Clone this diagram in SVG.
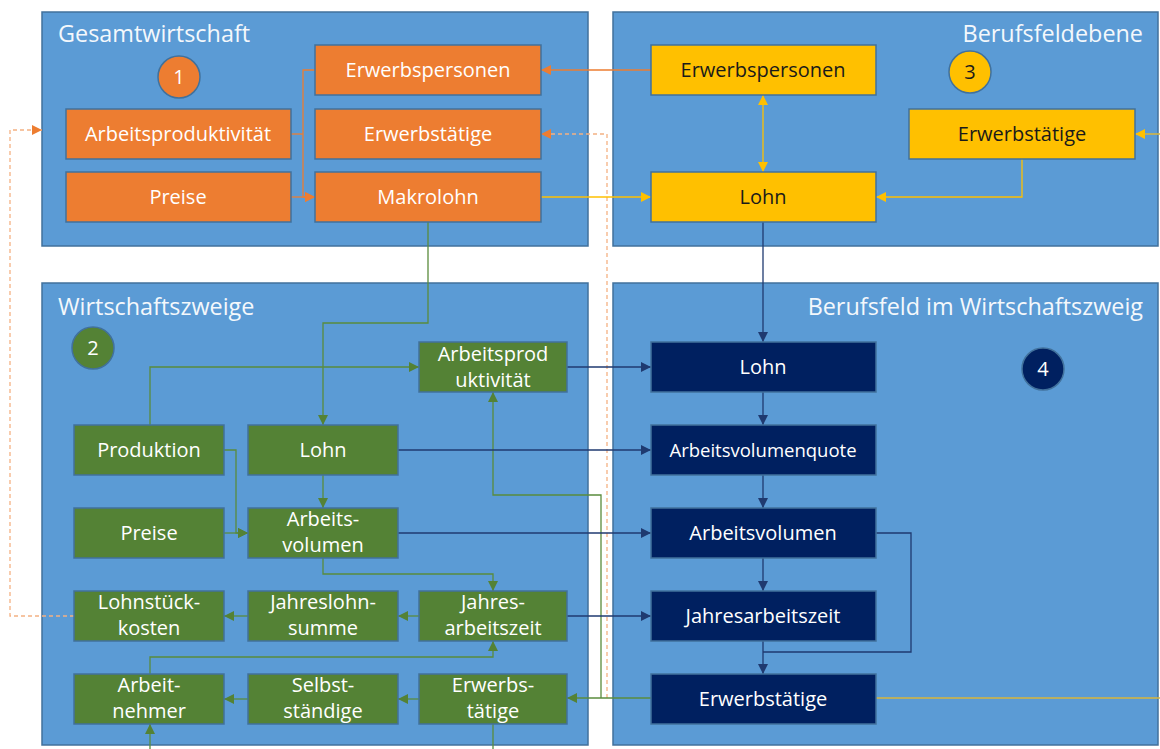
<svg xmlns="http://www.w3.org/2000/svg" width="1160" height="749" viewBox="0 0 1160 749">
<style>
.panel{fill:#5B9BD5;stroke:#41719C;stroke-width:1.5}
.title{font-family:"Open Sans","Liberation Sans",sans-serif;font-size:23.4px;fill:#F4F8FC}
.box{stroke:#41719C;stroke-width:1.5}
.or{fill:#ED7D31}.ye{fill:#FFC000}.gr{fill:#548235}.nv{fill:#002060}
.t{font-family:"Open Sans","Liberation Sans",sans-serif;font-size:20px;text-anchor:middle;fill:#FFFFFF}
.tk{fill:#1A1A1A}
.num{font-family:"Open Sans","Liberation Sans",sans-serif;font-size:20px;text-anchor:middle}
.c{fill:none;stroke-width:1.3}
.co{stroke:#ED7D31}.cy{stroke:#FFC000}.cg{stroke:#5A8C3C}.cn{stroke:#1F3A70}
.cd{stroke:#F4B183;stroke-dasharray:4 3}
</style>
<defs>
<marker id="ao" viewBox="0 0 10 10" refX="10" refY="5" markerWidth="10" markerHeight="10" markerUnits="userSpaceOnUse" orient="auto-start-reverse"><path d="M0,0L10,5L0,10z" fill="#ED7D31"/></marker>
<marker id="ay" viewBox="0 0 10 10" refX="10" refY="5" markerWidth="10" markerHeight="10" markerUnits="userSpaceOnUse" orient="auto-start-reverse"><path d="M0,0L10,5L0,10z" fill="#FFC000"/></marker>
<marker id="ag" viewBox="0 0 10 10" refX="10" refY="5" markerWidth="10" markerHeight="10" markerUnits="userSpaceOnUse" orient="auto-start-reverse"><path d="M0,0L10,5L0,10z" fill="#548235"/></marker>
<marker id="an" viewBox="0 0 10 10" refX="10" refY="5" markerWidth="10" markerHeight="10" markerUnits="userSpaceOnUse" orient="auto-start-reverse"><path d="M0,0L10,5L0,10z" fill="#1F3A70"/></marker>
</defs>
<rect width="1160" height="749" fill="#FFFFFF"/>

<g id="panel1">
<rect class="panel" x="42" y="12" width="546" height="234"/>
<text class="title" x="58" y="42">Gesamtwirtschaft</text>
</g>
<g id="panel3">
<rect class="panel" x="613" y="12" width="545" height="234"/>
<text class="title" x="1143" y="42" text-anchor="end">Berufsfeldebene</text>
</g>
<g id="panel2">
<rect class="panel" x="42" y="283" width="546" height="462"/>
<text class="title" x="58" y="315">Wirtschaftszweige</text>
</g>
<g id="panel4">
<rect class="panel" x="613" y="283" width="545" height="462"/>
<text class="title" x="1143" y="315" text-anchor="end">Berufsfeld im Wirtschaftszweig</text>
</g>

<g id="connectors">
<path class="c co" d="M315,70H303V197H315" marker-end="url(#ao)"/>
<path class="c co" d="M291,134H303"/>
<path class="c co" d="M291,197H315" marker-end="url(#ao)"/>
<path class="c co" d="M651,70H541" marker-end="url(#ao)"/>
<path class="c cd" d="M607,698V134H541" marker-end="url(#ao)"/>
<path class="c cd" d="M74,616H10V130H42" marker-end="url(#ao)"/>
<path class="c cy" d="M541,197H651" marker-end="url(#ay)"/>
<path class="c cy" d="M763,95V172" marker-start="url(#ay)" marker-end="url(#ay)"/>
<path class="c cy" d="M1022,159V197H876" marker-end="url(#ay)"/>
<path class="c" stroke="#D9B63C" d="M876,698H1163V134H1135" marker-end="url(#ay)"/>
<path class="c cg" d="M428,222V323H323V425" marker-end="url(#ag)"/>
<path class="c cg" d="M150,425V367H419" marker-end="url(#ag)"/>
<path class="c cg" d="M224,450H236V533H248" marker-end="url(#ag)"/>
<path class="c cg" d="M224,533H248" marker-end="url(#ag)"/>
<path class="c cg" d="M323,475V508" marker-end="url(#ag)"/>
<path class="c cg" d="M323,558V574H493V591" marker-end="url(#ag)"/>
<path class="c cg" d="M419,616H398" marker-end="url(#ag)"/>
<path class="c cg" d="M248,616H224" marker-end="url(#ag)"/>
<path class="c cg" d="M419,699H398" marker-end="url(#ag)"/>
<path class="c cg" d="M248,699H224" marker-end="url(#ag)"/>
<path class="c cg" d="M150,674V657H493V641" marker-end="url(#ag)"/>
<path class="c cg" d="M150,752V724" marker-end="url(#ag)"/>
<path class="c cg" d="M493,724V752"/>
<path class="c cg" d="M651,698H567" marker-end="url(#ag)"/>
<path class="c cg" d="M601,698V495H493V392" marker-end="url(#ag)"/>
<path class="c cn" d="M763,222V342" marker-end="url(#an)"/>
<path class="c cn" d="M567,367H651" marker-end="url(#an)"/>
<path class="c cn" d="M398,450H651" marker-end="url(#an)"/>
<path class="c cn" d="M398,533H651" marker-end="url(#an)"/>
<path class="c cn" d="M567,616H651" marker-end="url(#an)"/>
<path class="c cn" d="M763,392V425" marker-end="url(#an)"/>
<path class="c cn" d="M763,475V508" marker-end="url(#an)"/>
<path class="c cn" d="M763,558V591" marker-end="url(#an)"/>
<path class="c cn" d="M763,641V674" marker-end="url(#an)"/>
<path class="c cn" d="M876,533H911V652H763"/>
</g>

<g id="n1"><circle cx="179" cy="77" r="21" fill="#ED7D31" stroke="#41719C" stroke-width="1.5"/><text class="num" x="179" y="84" fill="#FFFFFF">1</text></g>
<g id="g-erwerbspersonen"><rect class="box or" x="315" y="45" width="226" height="50"/><text class="t" x="428" y="77">Erwerbspersonen</text></g>
<g id="g-arbeitsproduktivitaet"><rect class="box or" x="66" y="109" width="225" height="50"/><text class="t" x="178" y="141">Arbeitsproduktivität</text></g>
<g id="g-erwerbstaetige"><rect class="box or" x="315" y="109" width="226" height="50"/><text class="t" x="428" y="141">Erwerbstätige</text></g>
<g id="g-preise"><rect class="box or" x="66" y="172" width="225" height="50"/><text class="t" x="178" y="204">Preise</text></g>
<g id="g-makrolohn"><rect class="box or" x="315" y="172" width="226" height="50"/><text class="t" x="428" y="204">Makrolohn</text></g>

<g id="n3"><circle cx="970" cy="72" r="21" fill="#FFC000" stroke="#41719C" stroke-width="1.5"/><text class="num" x="970" y="79" fill="#1A1A1A">3</text></g>
<g id="b-erwerbspersonen"><rect class="box ye" x="651" y="45" width="225" height="50"/><text class="t tk" x="763" y="77">Erwerbspersonen</text></g>
<g id="b-erwerbstaetige"><rect class="box ye" x="909" y="109" width="226" height="50"/><text class="t tk" x="1022" y="141">Erwerbstätige</text></g>
<g id="b-lohn"><rect class="box ye" x="651" y="172" width="225" height="50"/><text class="t tk" x="763" y="204">Lohn</text></g>

<g id="n2"><circle cx="93" cy="348" r="21" fill="#548235" stroke="#41719C" stroke-width="1.5"/><text class="num" x="93" y="355" fill="#FFFFFF">2</text></g>
<g id="w-arbeitsprod"><rect class="box gr" x="419" y="342" width="148" height="50"/><text class="t" x="493" y="361">Arbeitsprod</text><text class="t" x="493" y="387">uktivität</text></g>
<g id="w-produktion"><rect class="box gr" x="74" y="425" width="150" height="50"/><text class="t" x="149" y="457">Produktion</text></g>
<g id="w-lohn"><rect class="box gr" x="248" y="425" width="150" height="50"/><text class="t" x="323" y="457">Lohn</text></g>
<g id="w-preise"><rect class="box gr" x="74" y="508" width="150" height="50"/><text class="t" x="149" y="540">Preise</text></g>
<g id="w-arbeitsvolumen"><rect class="box gr" x="248" y="508" width="150" height="50"/><text class="t" x="323" y="526">Arbeits-</text><text class="t" x="323" y="552">volumen</text></g>
<g id="w-lohnstueckkosten"><rect class="box gr" x="74" y="591" width="150" height="50"/><text class="t" x="149" y="609">Lohnstück-</text><text class="t" x="149" y="635">kosten</text></g>
<g id="w-jahreslohnsumme"><rect class="box gr" x="248" y="591" width="150" height="50"/><text class="t" x="323" y="609">Jahreslohn-</text><text class="t" x="323" y="635">summe</text></g>
<g id="w-jahresarbeitszeit"><rect class="box gr" x="419" y="591" width="148" height="50"/><text class="t" x="493" y="609">Jahres-</text><text class="t" x="493" y="635">arbeitszeit</text></g>
<g id="w-arbeitnehmer"><rect class="box gr" x="74" y="674" width="150" height="50"/><text class="t" x="149" y="692">Arbeit-</text><text class="t" x="149" y="718">nehmer</text></g>
<g id="w-selbststaendige"><rect class="box gr" x="248" y="674" width="150" height="50"/><text class="t" x="323" y="692">Selbst-</text><text class="t" x="323" y="718">ständige</text></g>
<g id="w-erwerbstaetige"><rect class="box gr" x="419" y="674" width="148" height="50"/><text class="t" x="493" y="692">Erwerbs-</text><text class="t" x="493" y="718">tätige</text></g>

<g id="n4"><circle cx="1043" cy="369" r="21" fill="#002060" stroke="#41719C" stroke-width="1.5"/><text class="num" x="1043" y="376" fill="#FFFFFF">4</text></g>
<g id="f-lohn"><rect class="box nv" x="651" y="342" width="225" height="50"/><text class="t" x="763" y="374">Lohn</text></g>
<g id="f-arbeitsvolumenquote"><rect class="box nv" x="651" y="425" width="225" height="50"/><text class="t" x="763" y="457" style="font-size:18.5px">Arbeitsvolumenquote</text></g>
<g id="f-arbeitsvolumen"><rect class="box nv" x="651" y="508" width="225" height="50"/><text class="t" x="763" y="540">Arbeitsvolumen</text></g>
<g id="f-jahresarbeitszeit"><rect class="box nv" x="651" y="591" width="225" height="50"/><text class="t" x="763" y="623">Jahresarbeitszeit</text></g>
<g id="f-erwerbstaetige"><rect class="box nv" x="651" y="674" width="225" height="50"/><text class="t" x="763" y="706">Erwerbstätige</text></g>
</svg>
